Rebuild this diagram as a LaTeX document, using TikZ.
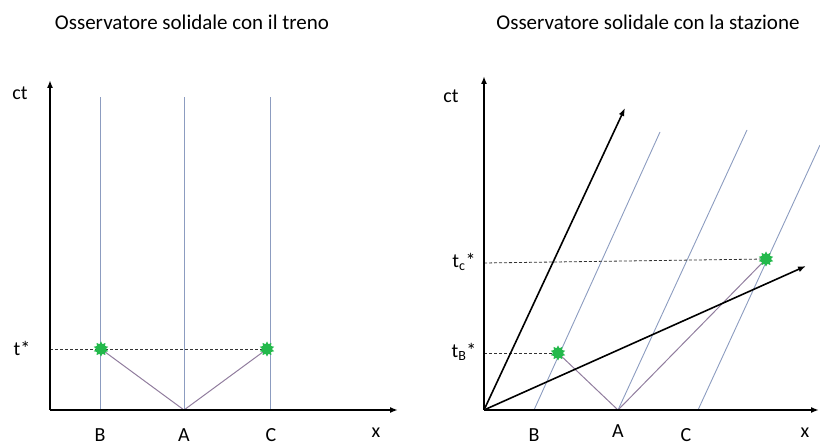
\documentclass[tikz,border=0pt]{standalone}
\usepackage{fontspec}
\setmainfont{Carlito}
\usetikzlibrary{arrows.meta, shapes.geometric}

\definecolor{worldblue}{RGB}{140,156,192}
\definecolor{lightpurple}{RGB}{145,125,158}
\definecolor{eventgreen}{RGB}{35,185,75}

\tikzset{
	axis/.style={line width=2.2pt, -{Latex[length=8pt,width=6pt]}},
	frame/.style={line width=1.6pt, -{Latex[length=8pt,width=6pt]}},
	world/.style={draw=worldblue, line width=0.9pt},
	light/.style={draw=lightpurple, line width=1pt},
	event/.style={star, star points=10, star point ratio=1.5, fill=eventgreen, inner sep=0pt, minimum size=15pt},
	simul/.style={dashed, dash pattern=on 3pt off 2pt, line width=0.8pt, draw=gray!40!black},
	lbl/.style={font=\fontsize{20}{24}\selectfont, inner sep=1pt},
	title/.style={font=\fontsize{21}{25}\selectfont},
}

\begin{document}
\begin{tikzpicture}[x=1pt, y=-1pt]
		\useasboundingbox (0,0) rectangle (820,446);

		% train frame
		\node[title] (title1) at (192,22) {Osservatore solidale con il treno};
		\coordinate (O1) at (50,410);
		\coordinate (Y1) at (50,80);
		\coordinate (X1) at (398,410);
		\coordinate (B1) at (100,410);
		\coordinate (A1) at (184,410);
		\coordinate (C1) at (270,410);
		\coordinate (B1top) at (100,97);
		\coordinate (A1top) at (184,97);
		\coordinate (C1top) at (270,97);
		\coordinate (t1) at (50,349);
		\coordinate (evB1) at (101,349);
		\coordinate (evC1) at (267,349);

		\draw[world] (B1) -- (B1top);
		\draw[world] (A1) -- (A1top);
		\draw[world] (C1) -- (C1top);
		\draw[simul] (t1) -- (evC1);
		\draw[light] (A1) -- (evB1);
		\draw[light] (A1) -- (evC1);
		\draw[axis] (O1) -- (Y1);
		\draw[axis] (O1) -- (X1);
		\node[event] (starB1) at (evB1) {};
		\node[event] (starC1) at (evC1) {};

		\node[lbl] (ct1) at (20,93) {ct};
		\node[lbl] (tstar) at (22,348) {t*};
		\node[lbl] (labB1) at (100,435) {B};
		\node[lbl] (labA1) at (184,435) {A};
		\node[lbl] (labC1) at (271,435) {C};
		\node[lbl] (labx1) at (376,433) {x};

		% station frame
		\node[title] (title2) at (648,22) {Osservatore solidale con la stazione};
		\coordinate (O2) at (484,410);
		\coordinate (Y2) at (484,76);
		\coordinate (X2) at (819,410);
		\coordinate (ctp) at (625,108);
		\coordinate (xp) at (806,266);
		\coordinate (B2) at (534,410);
		\coordinate (A2) at (618,410);
		\coordinate (C2) at (698,410);
		\coordinate (B2top) at (660,132);
		\coordinate (A2top) at (747,130);
		\coordinate (C2top) at (820,145);
		\coordinate (tB) at (484,353);
		\coordinate (tC) at (484,263);
		\coordinate (evB2) at (558,353);
		\coordinate (evC2) at (766,259);

		\draw[world] (B2) -- (B2top);
		\draw[world] (A2) -- (A2top);
		\draw[world] (C2) -- (C2top);
		\draw[simul] (tB) -- (evB2);
		\draw[simul] (tC) -- (evC2);
		\draw[light] (A2) -- (evB2);
		\draw[light] (A2) -- (evC2);
		\draw[frame] (O2) -- (ctp);
		\draw[frame] (O2) -- (xp);
		\draw[axis] (O2) -- (Y2);
		\draw[axis] (O2) -- (X2);
		\node[event] (starB2) at (evB2) {};
		\node[event] (starC2) at (evC2) {};

		\node[lbl] (ct2) at (451,96) {ct};
		\node[lbl] (tBstar) at (464,352) {t\textsubscript{B}*};
		\node[lbl] (tCstar) at (464,262) {t\textsubscript{c}*};
		\node[lbl] (labB2) at (534,435) {B};
		\node[lbl] (labA2) at (618,431) {A};
		\node[lbl] (labC2) at (686,435) {C};
		\node[lbl] (labx2) at (805,433) {x};
	\end{tikzpicture}
\end{document}
